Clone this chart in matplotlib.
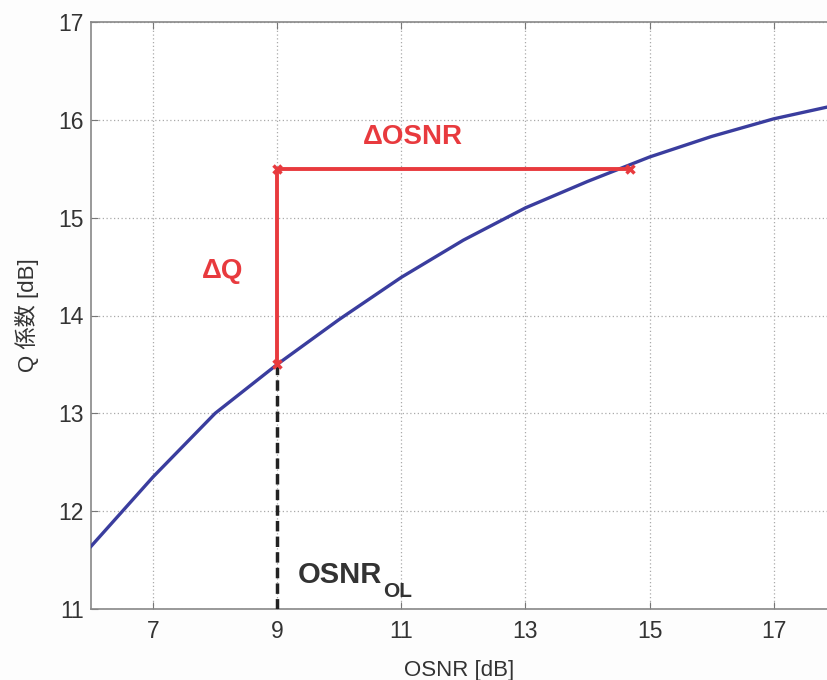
import matplotlib
matplotlib.use("Agg")
import matplotlib.pyplot as plt

plt.rcParams['font.family'] = ['Liberation Sans', 'Noto Sans CJK JP', 'DejaVu Sans']

# Data
osnr = [6, 7, 8, 9, 10, 11, 12, 13, 14, 15, 16, 17, 17.86]
q_db = [11.64, 12.35, 13.0, 13.5, 13.96, 14.39, 14.77, 15.10, 15.37, 15.62, 15.83, 16.01, 16.13]

osnr_ol = 9
q_ol = 13.5
q_target = 15.5
osnr_target = 14.68

xticks = [7, 9, 11, 13, 15, 17]
yticks = [11, 12, 13, 14, 15, 16, 17]

blue = '#3a3d9e'
red = '#e83a3e'
grey_text = '#333333'

fig = plt.figure(figsize=(8.27, 6.8), dpi=100)
ax = fig.add_axes([91/827, 1 - 609/680, 1 - 91/827, (609 - 22)/680])

ax.plot(osnr, q_db, color=blue, lw=2.4, zorder=3)

# dashed black line
ax.plot([osnr_ol, osnr_ol], [11, q_ol], color='#222222', lw=2.5, ls=(0, (3, 1.5)), zorder=4)
# red lines
ax.plot([osnr_ol, osnr_ol, osnr_target], [q_ol, q_target, q_target], color=red, lw=2.8, zorder=5)
ax.plot([osnr_ol, osnr_ol, osnr_target], [q_ol, q_target, q_target], ls='none',
        marker='x', ms=6, mew=2.5, color=red, zorder=6)

ax.text(11.18, 15.82, '\u0394OSNR', color=red, fontsize=20, fontweight='bold',
        ha='center', va='center')
ax.text(8.12, 14.45, '\u0394Q', color=red, fontsize=20, fontweight='bold',
        ha='center', va='center')
ax.text(9.33, 11.266, 'OSNR', color='#333333', fontsize=21,
        fontweight='bold', ha='left', va='baseline')
ax.text(10.71, 11.123, 'OL', color='#333333', fontsize=15,
        fontweight='bold', ha='left', va='baseline')

ax.set_xlim(6, 17.86)
ax.set_ylim(11, 17)
ax.set_xticks(xticks)
ax.set_yticks(yticks)
ax.grid(True, color='#aaaaaa', ls=(0, (1, 2)), lw=0.9)
ax.tick_params(direction='in', length=5, color='#777777', labelsize=16.5,
               labelcolor=grey_text, top=True)
ax.tick_params(axis='y', pad=5)
ax.tick_params(axis='x', pad=8)
for s in ['left', 'bottom', 'top']:
    ax.spines[s].set_color('#888888')
    ax.spines[s].set_linewidth(1.2)
ax.spines['right'].set_visible(False)

ax.set_xlabel('OSNR [dB]', fontsize=16, color=grey_text, labelpad=12)
ax.set_ylabel('Q 係数 [dB]', fontsize=16, color=grey_text, labelpad=14)

fig.savefig('out.png', dpi=100, facecolor='#fdfdfd')
